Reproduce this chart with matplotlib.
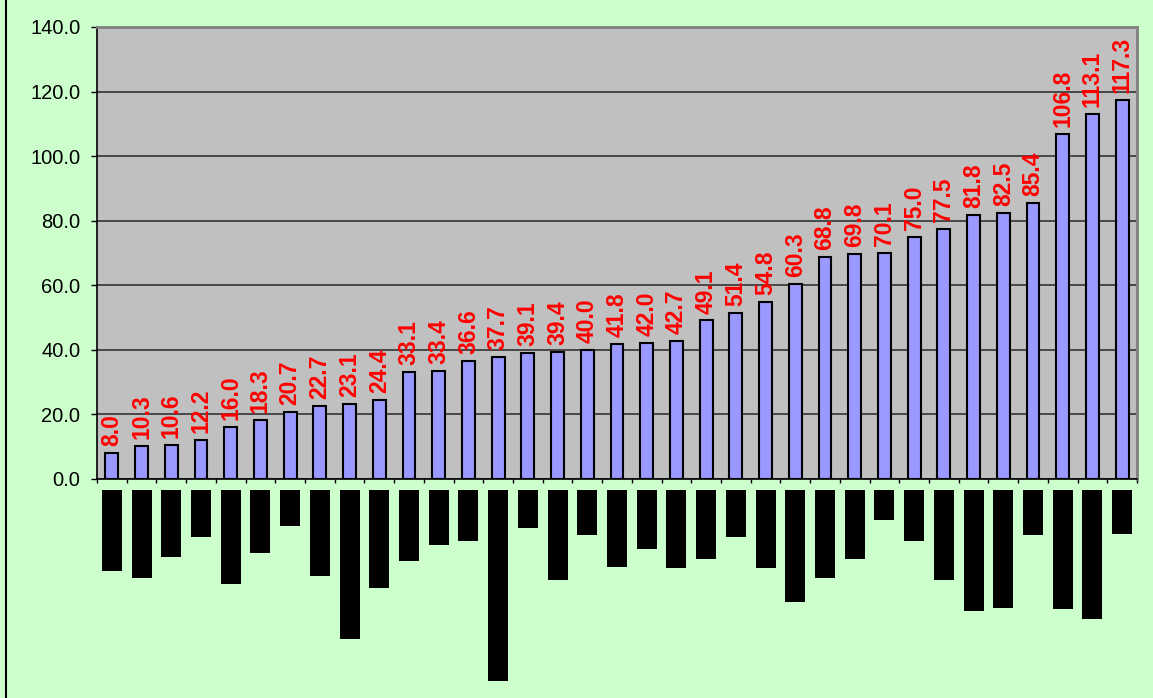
import matplotlib
matplotlib.use("Agg")
import matplotlib.pyplot as plt
import numpy as np

plt.rcParams['font.family'] = ['Liberation Sans', 'DejaVu Sans']

# bar values, sorted ascending as in the chart
values = [8.0, 10.3, 10.6, 12.2, 16.0, 18.3, 20.7, 22.7, 23.1, 24.4,
          33.1, 33.4, 36.6, 37.7, 39.1, 39.4, 40.0, 41.8, 42.0, 42.7,
          49.1, 51.4, 54.8, 60.3, 68.8, 69.8, 70.1, 75.0, 77.5, 81.8,
          82.5, 85.4, 106.8, 113.1, 117.3]

# lengths of the blacked-out category labels under the axis
label_lengths = [81, 88, 67, 47, 94, 63, 36, 86, 149, 98,
                 71, 55, 51, 191, 38, 90, 45, 77, 59, 78,
                 69, 47, 78, 112, 88, 69, 30, 51, 90, 121,
                 118, 45, 119, 129, 44]

yticks = [0, 20, 40, 60, 80, 100, 120, 140]

W, H = 1153, 698
fig = plt.figure(figsize=(W / 100, H / 100), dpi=100)
fig.patch.set_facecolor('#CCFFCC')

n = len(values)
x = np.arange(n)

ax = fig.add_axes([97 / W, (H - 479) / H, (1137 - 97) / W, (479 - 27) / H])
ax.set_facecolor('#C0C0C0')
ax.set_axisbelow(True)
ax.bar(x, values, width=0.43, color='#9999FF', edgecolor='black', linewidth=1.5, zorder=3)
for xi, v in zip(x, values):
    ax.annotate("%.1f" % v, (xi, v), xytext=(0, 5), textcoords='offset points',
                rotation=90, ha='center', va='bottom', color='red',
                fontsize=16.5, fontweight='bold', zorder=4)

ax.set_xlim(-0.5, n - 0.5)
ax.set_ylim(0, 140)
ax.set_yticks(yticks)
ax.set_yticklabels(["%.1f" % t for t in yticks], fontsize=14.5)
ax.yaxis.grid(True, color='#333333', linewidth=1.2)
ax.set_xticks(np.arange(n + 1) - 0.5)
ax.set_xticklabels([])
ax.tick_params(axis='y', length=4, width=1, pad=8)
ax.tick_params(axis='x', length=3, width=1)
for s in ['top', 'right']:
    ax.spines[s].set_color('#808080')
    ax.spines[s].set_linewidth(2)
for s in ['left', 'bottom']:
    ax.spines[s].set_color('black')
    ax.spines[s].set_linewidth(1.2)

# hidden category labels drawn as black blocks
ax2 = fig.add_axes([97 / W, 0, (1137 - 97) / W, (H - 490) / H])
ax2.patch.set_alpha(0)
ax2.bar(x, label_lengths, width=0.67, color='black')
ax2.set_xlim(-0.5, n - 0.5)
ax2.set_ylim(H - 490, 0)
ax2.axis('off')

# left frame line
fig.add_artist(plt.Line2D([6 / W, 6 / W], [0, 1], color='black', linewidth=1.5))

fig.savefig('out.png', dpi=100, facecolor=fig.get_facecolor())
